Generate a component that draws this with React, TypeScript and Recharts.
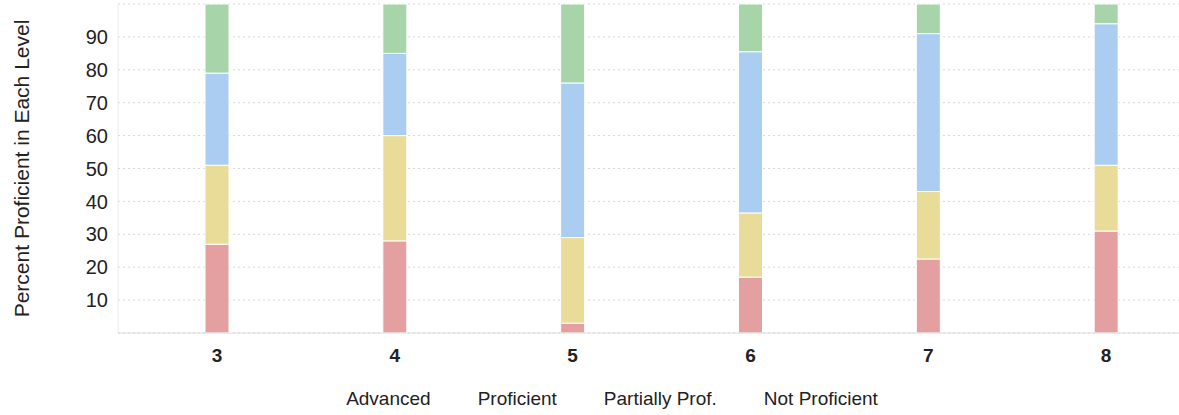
import { Bar, BarChart, CartesianGrid, Legend, XAxis, YAxis } from 'recharts'

const grades = ['3', '4', '5', '6', '7', '8']
const notProficient = [27, 28, 3, 17, 22.5, 31]
const partiallyProf = [24, 32, 26, 19.5, 20.5, 20]
const proficient = [28, 25, 47, 49, 48, 43]
const advanced = [21, 15, 24, 14.5, 9, 6]
const yTicks = [10, 20, 30, 40, 50, 60, 70, 80, 90]
const legendOrder = ['Advanced', 'Proficient', 'Partially Prof.', 'Not Proficient']

const FONT = '"Liberation Sans", Arial, sans-serif'

const data = grades.map((g, i) => ({
    grade: g,
    notProficient: notProficient[i],
    partiallyProf: partiallyProf[i],
    proficient: proficient[i],
    advanced: advanced[i],
}))

function TextLegend({ payload }: any) {
    const items = [...(payload ?? [])].sort(
        (a: any, b: any) => legendOrder.indexOf(a.value) - legendOrder.indexOf(b.value)
    )
    return (
        <div
            style={{
                display: 'flex',
                justifyContent: 'center',
                gap: 47,
                fontFamily: FONT,
                fontSize: 19,
                color: '#222',
            }}
        >
            {items.map((p: any) => (
                <span key={p.value}>{p.value}</span>
            ))}
        </div>
    )
}

export default function App() {
    return (
        <div
            style={{
                position: 'absolute',
                top: 0,
                left: 0,
                width: 1179,
                height: 415,
                overflow: 'hidden',
                background: '#fff',
            }}
        >
            <BarChart
                width={1200}
                height={415}
                data={data}
                margin={{ top: 4, right: 5, left: 0, bottom: 42 }}
            >
                <CartesianGrid
                    vertical={false}
                    stroke="#d8d8d8"
                    strokeDasharray="2 3"
                />
                <XAxis
                    dataKey="grade"
                    height={40}
                    padding={{ left: 10, right: 0 }}
                    axisLine={{ stroke: '#dcdcdc' }}
                    tickLine={false}
                    tickSize={0}
                    tickMargin={16}
                    tick={{ fill: '#222', fontSize: 19, fontWeight: 'bold', fontFamily: FONT }}
                />
                <YAxis
                    width={118}
                    domain={[0, 100]}
                    ticks={yTicks}
                    axisLine={{ stroke: '#ececec' }}
                    tickLine={false}
                    tickSize={0}
                    tickMargin={10}
                    tick={{ fill: '#222', fontSize: 20, fontFamily: FONT }}
                    label={{
                        value: 'Percent Proficient in Each Level',
                        angle: -90,
                        position: 'insideLeft',
                        offset: 22,
                        style: { textAnchor: 'middle', fill: '#222', fontSize: 21, fontFamily: FONT },
                    }}
                />
                <Legend
                    layout="horizontal"
                    verticalAlign="middle"
                    align="center"
                    wrapperStyle={{ top: 388, left: 0, width: 1224 }}
                    content={<TextLegend />}
                />
                <Bar dataKey="notProficient" name="Not Proficient" stackId="a" fill="#e4a0a0" stroke="#fff" strokeWidth={1} barSize={24} isAnimationActive={false} />
                <Bar dataKey="partiallyProf" name="Partially Prof." stackId="a" fill="#e8dc98" stroke="#fff" strokeWidth={1} barSize={24} isAnimationActive={false} />
                <Bar dataKey="proficient" name="Proficient" stackId="a" fill="#abcdf1" stroke="#fff" strokeWidth={1} barSize={24} isAnimationActive={false} />
                <Bar dataKey="advanced" name="Advanced" stackId="a" fill="#a7d4a9" stroke="#fff" strokeWidth={1} barSize={24} isAnimationActive={false} />
            </BarChart>
        </div>
    )
}
